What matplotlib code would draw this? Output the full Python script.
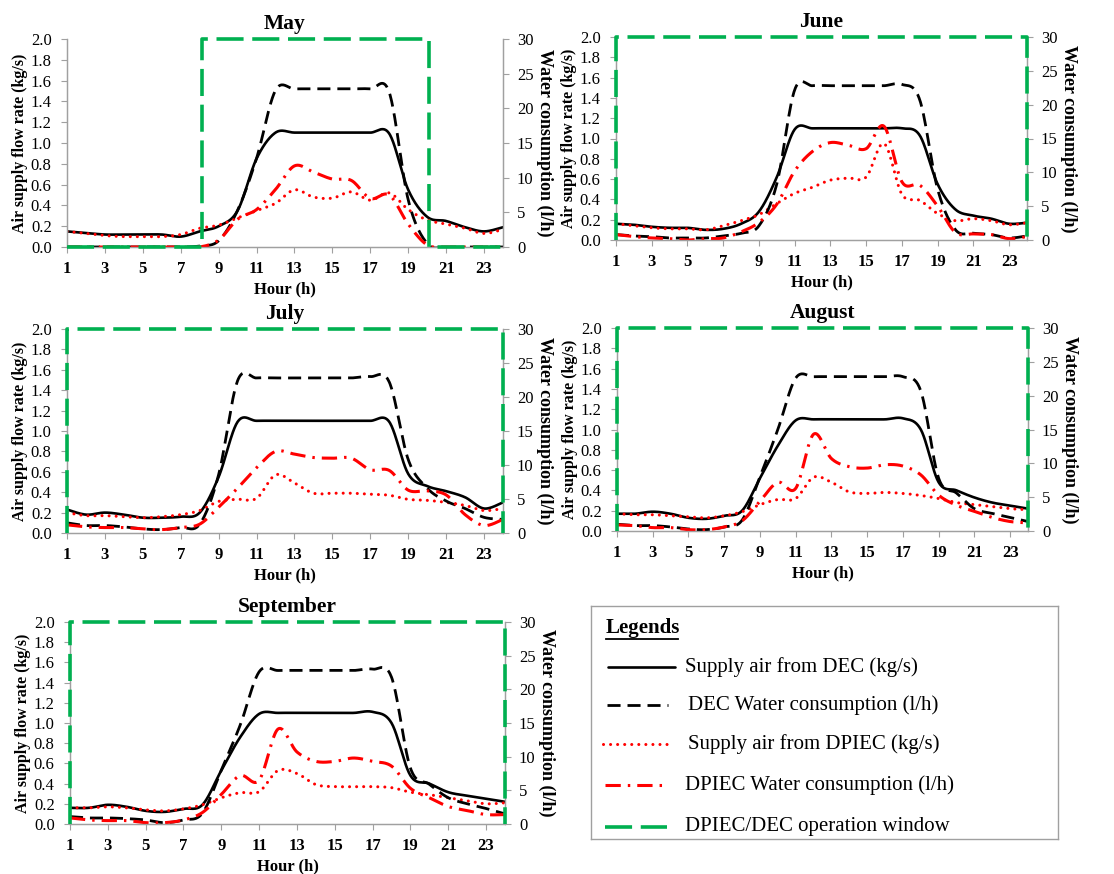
import numpy as np
import matplotlib
matplotlib.use("Agg")
import matplotlib.pyplot as plt

plt.rcParams['font.family'] = ['Liberation Serif', 'DejaVu Serif']

# ---------------------------------------------------------------- data
hours = np.arange(1, 25)
hour_ticks = np.arange(1, 24, 2)
month_names = ["May", "June", "July", "August", "September"]

# Supply air flow rate (kg/s) and water consumption (l/h), hourly
may_dec_air = [0.15, 0.135, 0.12, 0.12, 0.12, 0.12, 0.10, 0.15, 0.20, 0.35, 0.85, 1.10,
               1.10, 1.10, 1.10, 1.10, 1.10, 1.09, 0.55, 0.29, 0.25, 0.19, 0.15, 0.19]
may_dec_water = [0, 0, 0, 0, 0, 0, 0, 0.15, 0.9, 5.3, 12.8, 22.6,
                 22.8, 22.8, 22.8, 22.8, 22.8, 22.3, 6.8, 0.5, 0, 0, 0, 0]
may_dpiec_air = [0.15, 0.13, 0.11, 0.10, 0.10, 0.10, 0.12, 0.18, 0.21, 0.28, 0.35, 0.42,
                 0.55, 0.48, 0.47, 0.53, 0.45, 0.52, 0.36, 0.26, 0.22, 0.18, 0.13, 0.17]
may_dpiec_water = [0, 0, 0, 0, 0, 0, 0, 0, 1.0, 4.0, 5.4, 8.3,
                   11.7, 10.8, 9.8, 9.6, 7.0, 7.5, 3.3, 0.3, 0, 0, 0, 0]

jun_dec_air = [0.16, 0.15, 0.13, 0.12, 0.12, 0.10, 0.11, 0.16, 0.28, 0.62, 1.09, 1.10,
               1.10, 1.10, 1.10, 1.10, 1.10, 1.03, 0.55, 0.30, 0.24, 0.21, 0.16, 0.17]
jun_dec_water = [0.8, 0.6, 0.5, 0.3, 0.3, 0.3, 0.6, 1.0, 2.1, 8.3, 22.2, 22.8,
                 22.8, 22.8, 22.8, 22.8, 23.0, 20.7, 7.5, 1.5, 1.0, 0.8, 0.3, 0.6]
jun_dpiec_air = [0.16, 0.14, 0.12, 0.11, 0.11, 0.10, 0.14, 0.19, 0.25, 0.36, 0.46, 0.52,
                 0.59, 0.61, 0.62, 0.95, 0.45, 0.39, 0.26, 0.19, 0.21, 0.19, 0.15, 0.17]
jun_dpiec_water = [0.8, 0.5, 0.3, 0.2, 0.0, 0.2, 0.3, 1.2, 2.6, 5.3, 10.2, 13.1,
                   14.4, 14.0, 13.5, 16.8, 8.6, 8.1, 5.0, 1.1, 0.9, 0.8, 0.2, 0.5]

jul_dec_air = [0.23, 0.18, 0.20, 0.18, 0.15, 0.15, 0.16, 0.20, 0.55, 1.09, 1.10, 1.10,
               1.10, 1.10, 1.10, 1.10, 1.10, 1.09, 0.58, 0.46, 0.41, 0.35, 0.24, 0.30]
jul_dec_water = [1.5, 1.1, 1.1, 0.9, 0.6, 0.5, 0.8, 1.3, 8.6, 22.4, 22.8, 22.8,
                 22.8, 22.8, 22.8, 22.8, 23.0, 22.2, 10.8, 6.6, 4.7, 3.6, 2.3, 2.0]
jul_dpiec_air = [0.20, 0.17, 0.17, 0.16, 0.15, 0.16, 0.18, 0.22, 0.31, 0.33, 0.34, 0.57,
                 0.49, 0.39, 0.39, 0.39, 0.38, 0.37, 0.33, 0.32, 0.30, 0.27, 0.22, 0.24]
jul_dpiec_water = [1.2, 0.9, 0.8, 0.8, 0.6, 0.5, 0.8, 1.3, 3.8, 6.6, 9.6, 12.0,
                   11.6, 11.1, 11.0, 11.0, 9.3, 9.2, 6.3, 6.2, 5.6, 2.7, 1.1, 2.0]

aug_dec_air = [0.17, 0.17, 0.19, 0.17, 0.13, 0.12, 0.15, 0.20, 0.52, 0.84, 1.09, 1.10,
               1.10, 1.10, 1.10, 1.10, 1.11, 1.00, 0.48, 0.40, 0.33, 0.28, 0.25, 0.22]
aug_dec_water = [1.0, 0.8, 0.8, 0.6, 0.3, 0.2, 0.6, 1.6, 8.0, 15.0, 22.6, 22.8,
                 22.8, 22.8, 22.8, 22.8, 22.8, 20.7, 7.8, 5.6, 3.3, 2.6, 2.0, 1.4]
aug_dpiec_air = [0.17, 0.16, 0.16, 0.15, 0.14, 0.13, 0.15, 0.19, 0.26, 0.31, 0.32, 0.53,
                 0.48, 0.385, 0.37, 0.38, 0.37, 0.35, 0.32, 0.28, 0.26, 0.24, 0.22, 0.21]
aug_dpiec_water = [0.9, 0.8, 0.5, 0.5, 0.2, 0.2, 0.6, 1.5, 4.4, 7.2, 6.3, 14.3,
                   10.7, 9.5, 9.3, 9.8, 9.6, 8.3, 5.3, 3.8, 2.9, 2.0, 1.4, 1.2]

sep_dec_air = [0.16, 0.16, 0.19, 0.17, 0.13, 0.12, 0.15, 0.19, 0.53, 0.86, 1.09, 1.10,
               1.10, 1.10, 1.10, 1.10, 1.11, 1.00, 0.48, 0.40, 0.315, 0.28, 0.25, 0.22]
sep_dec_water = [1.1, 0.9, 0.9, 0.8, 0.6, 0.2, 0.6, 1.6, 8.0, 14.7, 22.6, 22.8,
                 22.8, 22.8, 22.8, 22.8, 23.0, 21.8, 8.3, 5.9, 3.9, 3.0, 2.3, 1.5]
sep_dpiec_air = [0.16, 0.16, 0.17, 0.16, 0.14, 0.13, 0.15, 0.19, 0.26, 0.31, 0.32, 0.53,
                 0.50, 0.39, 0.37, 0.37, 0.37, 0.36, 0.315, 0.29, 0.26, 0.23, 0.20, 0.21]
sep_dpiec_water = [0.9, 0.6, 0.5, 0.5, 0.2, 0.2, 0.6, 1.7, 4.4, 7.2, 6.5, 14.1,
                   10.7, 9.3, 9.3, 9.8, 9.3, 8.6, 5.3, 3.9, 2.6, 2.0, 1.4, 1.4]

# Operation window (start hour, end hour) of the DPIEC/DEC units
window_start = [8.1, 1, 1, 1, 1]
window_end = [20.1, 24, 24, 24, 24]

legend_labels = ["Supply air from DEC (kg/s)", "DEC Water consumption (l/h)",
                 "Supply air from DPIEC (kg/s)", "DPIEC Water consumption (l/h)",
                 "DPIEC/DEC operation window"]

# ---------------------------------------------------------------- styles
GREEN = "#00b050"
SPINE = "#a0a0a0"
STYLE_DEC_AIR = dict(color="black", lw=1.9, solid_capstyle="round")
STYLE_DEC_WATER = dict(color="black", lw=2.0, linestyle=(0, (4.7, 2.5)))
STYLE_DPIEC_AIR = dict(color="red", lw=2.2, linestyle=(0, (0.01, 2.3)),
                       dash_capstyle="round")
STYLE_DPIEC_WATER = dict(color="red", lw=2.2, linestyle=(0, (5, 2.3, 0.8, 2.3)))
STYLE_WINDOW = dict(color=GREEN, lw=2.6, linestyle=(0, (7.5, 2.4)))


def smooth(x, y, n=24):
    """Smoothed line through the points (cubic Bezier with Catmull-Rom tangents)."""
    x = np.asarray(x, float)
    y = np.asarray(y, float)
    xp = np.concatenate([[x[0]], x, [x[-1]]])
    yp = np.concatenate([[y[0]], y, [y[-1]]])
    t = np.linspace(0, 1, n, endpoint=False)[:, None]
    xs, ys = [], []
    for i in range(len(x) - 1):
        p0 = np.array([xp[i], yp[i]])
        p1 = np.array([x[i], y[i]])
        p2 = np.array([x[i + 1], y[i + 1]])
        p3 = np.array([xp[i + 3], yp[i + 3]])
        c1 = p1 + (p2 - p0) / 6.0
        c2 = p2 - (p3 - p1) / 6.0
        b = ((1 - t) ** 3) * p1 + 3 * ((1 - t) ** 2) * t * c1 \
            + 3 * (1 - t) * t ** 2 * c2 + t ** 3 * p2
        xs.append(b[:, 0])
        ys.append(b[:, 1])
    xs.append([x[-1]])
    ys.append([y[-1]])
    return np.concatenate(xs), np.concatenate(ys)


W, H = 1114, 874
fig = plt.figure(figsize=(W / 100, H / 100), dpi=100)


def px_rect(left, top, right, bottom):
    return [left / W, 1 - bottom / H, (right - left) / W, (bottom - top) / H]


def draw_panel(rect, title, dec_air, dec_water, dpiec_air, dpiec_water, w0, w1):
    ax = fig.add_axes(rect)
    ax2 = ax.twinx()

    ax.plot(*smooth(hours, dec_air), **STYLE_DEC_AIR)
    ax.plot(*smooth(hours, dpiec_air), **STYLE_DPIEC_AIR)
    ax2.plot(*smooth(hours, dec_water), **STYLE_DEC_WATER)
    ax2.plot(*smooth(hours, dpiec_water), **STYLE_DPIEC_WATER)

    # operation window: full scale while running, zero otherwise
    top = 30
    if w0 <= hours[0] and w1 >= hours[-1]:
        wx = [w0, w0, w1, w1]
        wy = [0, top, top, 0]
    else:
        wx = [hours[0], w0, w0, w1, w1, hours[-1]]
        wy = [0, 0, top, top, 0, 0]
    ax2.plot(wx, wy, clip_on=False, zorder=5, **STYLE_WINDOW)

    ax.set_xlim(1, 24)
    ax.set_ylim(0, 2.0)
    ax2.set_ylim(0, 30)
    ax.set_xticks(hour_ticks)
    ax.set_yticks(np.arange(0, 2.01, 0.2))
    ax.set_yticklabels([f"{v:.1f}" for v in np.arange(0, 2.01, 0.2)])
    ax2.set_yticks(np.arange(0, 31, 5))

    for a in (ax, ax2):
        a.spines["top"].set_visible(False)
        for s in ("left", "right", "bottom"):
            a.spines[s].set_color(SPINE)
            a.spines[s].set_linewidth(0.9)
    ax.tick_params(axis="y", direction="out", length=4, color=SPINE,
                   labelsize=12, pad=7)
    ax.tick_params(axis="x", direction="out", length=4, color=SPINE,
                   labelsize=12, pad=6)
    ax2.tick_params(axis="y", direction="out", length=4, color=SPINE,
                    labelsize=12, pad=6)
    for lbl in ax.get_xticklabels():
        lbl.set_fontweight("bold")

    ax.set_title(title, fontsize=15.5, fontweight="bold", pad=7)
    ax.set_xlabel("Hour (h)", fontsize=12, fontweight="bold", labelpad=3)
    ax.set_ylabel("Air supply flow rate (kg/s)", fontsize=11.5,
                  fontweight="bold", labelpad=2)
    ax2.set_ylabel("Water consumption (l/h)", fontsize=13, fontweight="bold",
                   rotation=270, labelpad=14)
    return ax, ax2


panel_rects = [
    px_rect(67, 39, 503, 247),
    px_rect(616, 37, 1027, 240),
    px_rect(67, 329, 503, 533),
    px_rect(617, 328, 1028, 531),
    px_rect(70, 622, 505, 824),
]
series = [
    (may_dec_air, may_dec_water, may_dpiec_air, may_dpiec_water),
    (jun_dec_air, jun_dec_water, jun_dpiec_air, jun_dpiec_water),
    (jul_dec_air, jul_dec_water, jul_dpiec_air, jul_dpiec_water),
    (aug_dec_air, aug_dec_water, aug_dpiec_air, aug_dpiec_water),
    (sep_dec_air, sep_dec_water, sep_dpiec_air, sep_dpiec_water),
]
for rect, name, s, w0, w1 in zip(panel_rects, month_names, series,
                                 window_start, window_end):
    draw_panel(rect, name, *s, w0, w1)

# ---------------------------------------------------------------- legend box
lg_left, lg_top, lg_right, lg_bottom = 591, 606, 1058, 839
lax = fig.add_axes(px_rect(lg_left, lg_top, lg_right, lg_bottom))
lax.set_xlim(0, lg_right - lg_left)
lax.set_ylim(lg_bottom - lg_top, 0)
lax.set_xticks([])
lax.set_yticks([])
for s in lax.spines.values():
    s.set_color(SPINE)
    s.set_linewidth(1.0)

lax.text(15, 22, "Legends", fontsize=15, fontweight="bold",
         ha="left", va="center")
lax.plot([15, 87], [33, 33], color="black", lw=1.3)

row_y = [61, 99, 138, 179, 221]
sample_x = [(17, 84), (16, 77), (12, 79), (14, 76), (14, 76)]
text_x = [94, 97, 97, 94, 94]
styles = [STYLE_DEC_AIR, STYLE_DEC_WATER, STYLE_DPIEC_AIR,
          STYLE_DPIEC_WATER, STYLE_WINDOW]
for y, (x0, x1), tx, st, lab in zip(row_y, sample_x, text_x, styles,
                                     legend_labels):
    lax.plot([x0, x1], [y, y], **st)
    lax.text(tx, y, lab, fontsize=15, ha="left", va="center")

fig.savefig("out.png", dpi=100)
